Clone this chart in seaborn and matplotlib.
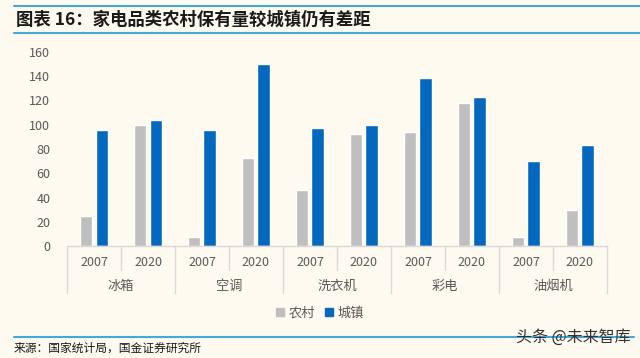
import pandas as pd
import matplotlib.pyplot as plt
import matplotlib.transforms as mtransforms
import seaborn as sns

# ---------------- DATA ----------------
categories = ["冰箱", "空调", "洗衣机", "彩电", "油烟机"]
years = ["2007", "2020"]
rural = [25, 100, 8, 73, 46, 92, 94, 118, 8, 30]
urban = [96, 104, 96, 150, 97, 100, 138, 123, 70, 83]
series_names = ["农村", "城镇"]

title_text = "图表 16：家电品类农村保有量较城镇仍有差距"
source_text = "来源：国家统计局，国金证券研究所"
watermark_text = "头条 @未来智库"

# ---------------- BUILD TABLE ----------------
slots = [f"{c}-{y}" for c in categories for y in years]
df = pd.DataFrame({
    "slot": slots * 2,
    "area": [series_names[0]] * len(slots) + [series_names[1]] * len(slots),
    "value": rural + urban,
})

# ---------------- STYLE ----------------
bg = "#FEFAF0"
gray_bar = "#BFBFBF"
blue_bar = "#0468BF"
line_blue = "#45A8DC"
axis_gray = "#D9D9D9"
text_gray = "#595959"

sns.set_style("white")
plt.rcParams["font.family"] = ["Noto Sans CJK SC", "DejaVu Sans"]

fig = plt.figure(figsize=(6.4, 3.58), dpi=100)
fig.patch.set_facecolor(bg)
ax = fig.add_axes([0.1047, 0.3115, 0.8436, 0.5441])
ax.set_facecolor(bg)

# ---------------- BARS ----------------
sns.barplot(
    data=df, x="slot", y="value", hue="area",
    palette=[gray_bar, blue_bar], order=slots, hue_order=series_names,
    width=0.59, gap=0.19, saturation=1, legend=False, ax=ax,
)

ax.set_ylim(0, 160)
ax.set_yticks(range(0, 161, 20))
ax.set_xlim(-0.5, len(slots) - 0.5)
ax.set_xlabel("")
ax.set_ylabel("")
ax.tick_params(axis="y", length=0, labelsize=9, labelcolor=text_gray, pad=12)
ax.tick_params(axis="x", length=0, labelsize=9, labelcolor=text_gray, pad=7)
ax.set_xticks(range(len(slots)))
ax.set_xticklabels(years * len(categories))

for side in ["top", "right", "left"]:
    ax.spines[side].set_visible(False)
ax.spines["bottom"].set_color(axis_gray)
ax.spines["bottom"].set_linewidth(1)

# ---------------- TWO-LEVEL X AXIS ----------------
trans = mtransforms.blended_transform_factory(ax.transData, ax.transAxes)
for i in range(len(slots) + 1):
    x = i - 0.5
    y_end = -0.239 if i % 2 == 0 else -0.121
    ax.plot([x, x], [0, y_end], color=axis_gray, lw=1,
            transform=trans, clip_on=False)

for j, cat in enumerate(categories):
    ax.text(2 * j + 0.5, -0.203, cat, transform=trans, ha="center",
            va="center", fontsize=9.5, color=text_gray)

# ---------------- LEGEND ----------------
handles = [plt.Rectangle((0, 0), 1, 1, color=c) for c in [gray_bar, blue_bar]]
fig.legend(handles, series_names, loc="center", bbox_to_anchor=(0.5, 0.126),
           ncol=2, frameon=False, fontsize=9.5, labelcolor=text_gray,
           handlelength=0.6, handleheight=0.6, handletextpad=0.3,
           columnspacing=0.8)

# ---------------- TITLE / SOURCE ----------------
fig.add_artist(plt.Line2D([0.022, 1.0], [0.983, 0.983], color=line_blue, lw=1.5))
fig.add_artist(plt.Line2D([0.022, 1.0], [0.908, 0.908], color=line_blue, lw=1.5))
fig.text(0.025, 0.945, title_text, fontsize=12.5, fontweight="bold",
         fontstyle="italic", color="#1A1A1A", va="center", ha="left")

fig.add_artist(plt.Line2D([0.022, 0.99], [0.06, 0.06], color=line_blue, lw=1.5))
fig.text(0.022, 0.028, source_text, fontsize=8.5, color="#1A1A1A",
         va="center", ha="left")
fig.text(0.985, 0.057, watermark_text, fontsize=11.5, color="#333333",
         va="center", ha="right")

fig.savefig("out.png", dpi=100, facecolor=bg)
